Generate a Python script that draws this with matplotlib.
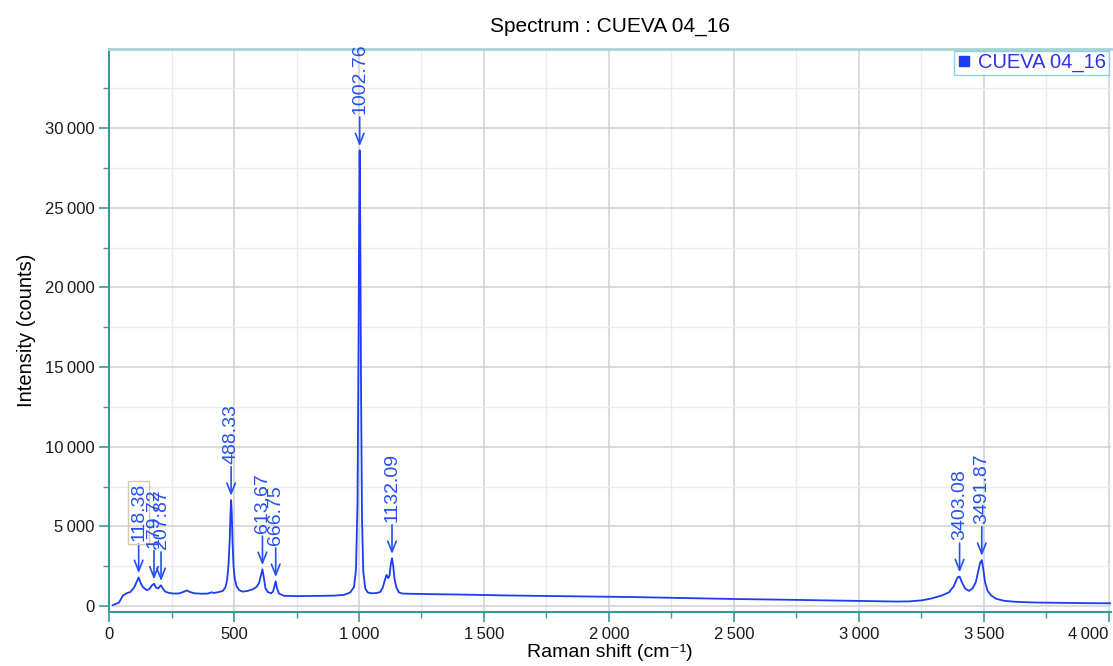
import numpy as np
import matplotlib.pyplot as plt
from matplotlib.lines import Line2D
from matplotlib.ticker import MultipleLocator, FuncFormatter

plt.rcParams['font.family'] = ['Liberation Sans', 'DejaVu Sans']

# Raman spectrum, CUEVA 04_16 (shift in cm-1, intensity in counts)
shift = [15, 25, 40, 55, 70, 85, 100, 110, 118.38, 126, 135, 150, 160, 172,
         179.72, 188, 196, 207.87, 215, 225, 240, 260, 280, 300, 310, 320,
         340, 370, 395, 410, 420, 440, 455, 465, 472, 478, 483, 486, 488.33,
         491, 494, 498, 503, 510, 520, 535, 555, 575, 590, 600, 607, 613.67,
         619, 626, 635, 648, 656, 661, 666.75, 672, 680, 700, 750, 800, 850,
         900, 940, 965, 980, 988, 994, 998, 1000.5, 1002.76, 1005, 1008,
         1012, 1017, 1025, 1035, 1050, 1070, 1085, 1095, 1103, 1110, 1117,
         1122, 1127, 1132.09, 1137, 1142, 1150, 1160, 1175, 1200, 1300, 1400,
         1500, 1600, 1700, 1800, 1900, 2000, 2100, 2200, 2300, 2400, 2500,
         2600, 2700, 2800, 2900, 3000, 3100, 3150, 3200, 3250, 3290, 3330,
         3360, 3380, 3395, 3403.08, 3412, 3425, 3440, 3455, 3468, 3478, 3485,
         3491.87, 3497, 3505, 3515, 3530, 3550, 3580, 3620, 3700, 3800, 3900,
         4008]
intensity = [60, 120, 220, 650, 800, 880, 1150, 1500, 1800, 1450, 1200, 1000,
             1050, 1300, 1400, 1150, 1100, 1300, 1100, 900, 820, 780, 790, 900,
             980, 900, 800, 770, 780, 860, 820, 880, 950, 1150, 1600, 2600,
             4300, 5900, 6650, 5800, 4000, 2500, 1700, 1250, 1000, 900, 950,
             1050, 1200, 1450, 1900, 2300, 1800, 1100, 880, 800, 900, 1200,
             1550, 1100, 780, 640, 620, 630, 640, 650, 700, 850, 1200, 2300,
             6500, 16000, 24000, 28600, 24000, 14000, 5500, 2200, 1100, 850,
             800, 810, 880, 1150, 1600, 1950, 1750, 1900, 2600, 3000, 2500,
             1700, 1150, 850, 780, 770, 740, 720, 690, 660, 640, 620, 600, 585,
             560, 530, 500, 470, 440, 420, 395, 370, 340, 320, 295, 280, 290,
             350, 470, 650, 850, 1250, 1800, 1850, 1500, 1100, 950, 1100, 1500,
             2200, 2700, 2880, 2400, 1500, 950, 650, 450, 330, 270, 220, 200,
             180, 170]

# labelled peaks
peaks = [118.38, 179.72, 207.87, 488.33, 613.67, 666.75, 1002.76, 1132.09,
         3403.08, 3491.87]

xticks = [0, 500, 1000, 1500, 2000, 2500, 3000, 3500, 4000]
yticks = [0, 5000, 10000, 15000, 20000, 25000, 30000]

blue = '#1c3cf5'
label_blue = '#2450f0'
teal = '#3a9898'

fig = plt.figure(figsize=(11.13, 6.66), dpi=100)
ax = fig.add_axes([0.098, 0.081, 0.900, 0.846])

ax.plot(shift, intensity, color=blue, lw=1.3, zorder=3)

# peak markers: rotated value label with an arrow down to the peak
for p in peaks:
    h = intensity[shift.index(p)]
    box = None
    if p == 118.38:
        box = dict(boxstyle='square,pad=0.12', fc='none', ec='#d3c9ad', lw=1)
    ax.annotate('%.2f' % p, xy=(p, h), xytext=(0, 26),
                textcoords='offset points', rotation=90, ha='center',
                va='bottom', fontsize=14, color=label_blue, bbox=box,
                arrowprops=dict(arrowstyle='->,head_length=0.55,head_width=0.22',
                                color=label_blue, lw=1.2, shrinkA=0, shrinkB=3),
                zorder=4)

ax.set_xlim(0, 4008)
ax.set_ylim(-380, 34990)

fmt = FuncFormatter(lambda v, pos: '{:,}'.format(int(v)).replace(',', '\u2009'))
ax.set_xticks(xticks)
ax.set_yticks(yticks)
ax.xaxis.set_major_formatter(fmt)
ax.yaxis.set_major_formatter(fmt)
ax.xaxis.set_minor_locator(MultipleLocator(250))
ax.yaxis.set_minor_locator(MultipleLocator(2500))

ax.grid(which='major', color='#d4d4d4', lw=1.2)
ax.grid(which='minor', color='#ebebeb', lw=1.0)
ax.set_axisbelow(True)

ax.tick_params(which='both', direction='out', color=teal, labelsize=12,
               labelcolor='#1a1a1a')
ax.tick_params(which='major', length=7, width=1.2)
ax.tick_params(which='minor', length=4, width=1.0)

for s in ['left', 'bottom']:
    ax.spines[s].set_color(teal)
    ax.spines[s].set_linewidth(1.5)
ax.spines['top'].set_color('#a6d3d3')
ax.spines['top'].set_linewidth(2)
ax.spines['right'].set_visible(False)

ax.set_xlabel('Raman shift (cm⁻¹)', fontsize=14, labelpad=2)
ax.set_ylabel('Intensity (counts)', fontsize=14.5, labelpad=6)
ax.set_title('Spectrum : CUEVA 04_16', fontsize=15, pad=12)

handle = Line2D([], [], marker='s', ls='none', color=blue, markersize=7)
leg = ax.legend([handle], ['CUEVA 04_16'], loc='upper right', fontsize=14.5,
                labelcolor='#3030f0', frameon=True, fancybox=False,
                borderaxespad=0.1, handlelength=0.8, handletextpad=0.3,
                borderpad=0.12)
leg.get_frame().set_edgecolor('#6cc8e6')
leg.get_frame().set_linewidth(1.0)

# keep the last x tick label inside the figure
fig.canvas.draw()
ax.get_xticklabels()[-1].set_ha('right')

fig.savefig('out.png', dpi=100)
